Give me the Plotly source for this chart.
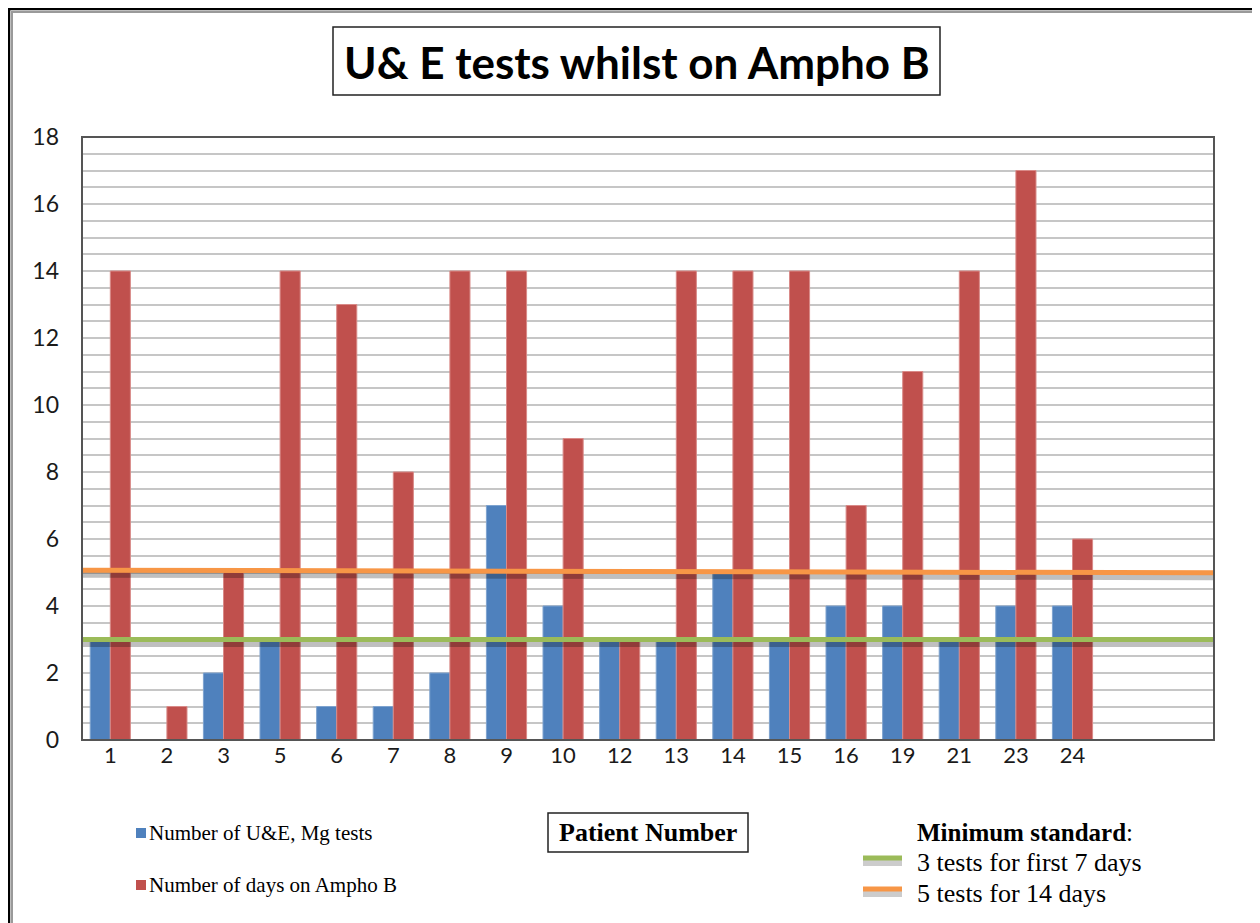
import plotly.graph_objects as go

# ---------------- data ----------------
patients = ["1", "2", "3", "5", "6", "7", "8", "9", "10", "12", "13", "14", "15", "16", "19", "21", "23", "24"]
n_empty_categories = 2
ue_mg_tests = [3, 0, 2, 3, 1, 1, 2, 7, 4, 3, 3, 5, 3, 4, 4, 3, 4, 4]
days_on_ampho = [14, 1, 5, 14, 13, 8, 14, 14, 9, 3, 14, 14, 14, 7, 11, 14, 17, 6]
std_7days = [3, 3]        # minimum standard: 3 tests for first 7 days
std_14days = [5.07, 4.99]  # minimum standard: 5 tests for 14 days (hand drawn, slightly sloped)
y_ticks = [0, 2, 4, 6, 8, 10, 12, 14, 16, 18]

title_text = "U& E tests whilst on Ampho B"
xaxis_title = "Patient Number"
series_names = ["Number of U&E, Mg tests", "Number of days on Ampho B"]
std_title = "Minimum standard"
std_labels = ["3 tests for first 7 days", "5 tests for 14 days"]

# ---------------- styles ----------------
BLUE = "#4F81BD"
RED = "#C0504D"
GREEN = "#9BBB59"
ORANGE = "#F79646"
SERIF = "Liberation Serif, Times New Roman, serif"
SANS = "Lato, Open Sans, sans-serif"

OFF = 8  # page body margin
W_FIG, H_FIG = 1260 - OFF, 923 - OFF
# plot area in screenshot pixels
L, R, T, B = 82, 1214, 137, 740
PW, PH = R - L, B - T

def px(x):
    return (x - L) / PW

def py(y):
    return (B - y) / PH

n_cat = len(patients) + n_empty_categories
x_idx = list(range(len(patients)))
x_range = [-0.5, n_cat - 0.5]
y_range = [0, 18]
shadow_off = 4 * (y_range[1] - y_range[0]) / PH

fig = go.Figure()
fig.add_trace(go.Bar(x=x_idx, y=ue_mg_tests, name=series_names[0],
                     marker=dict(color=BLUE, line=dict(color="#7ea3cf", width=1))))
fig.add_trace(go.Bar(x=x_idx, y=days_on_ampho, name=series_names[1],
                     marker=dict(color=RED, line=dict(color="#d98a88", width=1))))

for vals, col in [(std_7days, GREEN), (std_14days, ORANGE)]:
    fig.add_trace(go.Scatter(x=x_range, y=[v - shadow_off for v in vals], mode="lines",
                             line=dict(color="rgba(0,0,0,0.25)", width=7),
                             hoverinfo="skip", cliponaxis=False))
    fig.add_trace(go.Scatter(x=x_range, y=vals, mode="lines",
                             line=dict(color=col, width=5), cliponaxis=False))

shapes = []
annotations = []

# outer frame
shapes += [
    dict(type="line", xref="paper", yref="paper", x0=px(8.5), x1=px(8.5), y0=py(7), y1=py(930),
         line=dict(color="black", width=3.5)),
    dict(type="line", xref="paper", yref="paper", x0=px(7), x1=px(1262), y0=py(8.5), y1=py(8.5),
         line=dict(color="black", width=3.5)),
    dict(type="line", xref="paper", yref="paper", x0=px(12), x1=px(12), y0=py(11), y1=py(930),
         line=dict(color="#9a9a9a", width=2)),
    dict(type="line", xref="paper", yref="paper", x0=px(11), x1=px(1258), y0=py(12), y1=py(12),
         line=dict(color="#9a9a9a", width=2)),
    dict(type="line", xref="paper", yref="paper", x0=px(1258.5), x1=px(1258.5), y0=py(11), y1=py(930),
         line=dict(color="#b5b5b5", width=2)),
]

# plot area border
shapes.append(dict(type="rect", xref="paper", yref="paper", x0=0, x1=1, y0=0, y1=1,
                   line=dict(color="#555555", width=2), layer="above"))

# title box
shapes.append(dict(type="rect", xref="paper", yref="paper", x0=px(333), x1=px(940), y0=py(27), y1=py(95),
                   line=dict(color="#222222", width=1.5), fillcolor="white"))
annotations.append(dict(text="<b>" + title_text + "</b>", xref="paper", yref="paper",
                        x=px(636.5), y=py(62), showarrow=False, xanchor="center", yanchor="middle",
                        font=dict(family=SANS, size=44, color="black")))

# axis title box
shapes.append(dict(type="rect", xref="paper", yref="paper", x0=px(548), x1=px(748), y0=py(813), y1=py(852),
                   line=dict(color="#222222", width=1.5), fillcolor="white"))
annotations.append(dict(text="<b>" + xaxis_title + "</b>", xref="paper", yref="paper",
                        x=px(648), y=py(832), showarrow=False, xanchor="center", yanchor="middle",
                        font=dict(family=SERIF, size=26, color="black")))

# legend: bar series
for (cy, col, name) in [(833, BLUE, series_names[0]), (885, RED, series_names[1])]:
    shapes.append(dict(type="rect", xref="paper", yref="paper", x0=px(136), x1=px(146),
                       y0=py(cy - 5), y1=py(cy + 5), line=dict(width=0), fillcolor=col))
    annotations.append(dict(text=name, xref="paper", yref="paper", x=px(147), y=py(cy),
                            showarrow=False, xanchor="left", yanchor="middle",
                            font=dict(family=SERIF, size=21, color="black")))

# legend: minimum standard
annotations.append(dict(text="<b>" + std_title + "</b>:", xref="paper", yref="paper", x=px(915), y=py(832),
                        showarrow=False, xanchor="left", yanchor="middle",
                        font=dict(family=SERIF, size=25, color="black")))
for (cy, col, lab) in [(862, GREEN, std_labels[0]), (893, ORANGE, std_labels[1])]:
    ly = cy - 4
    shapes.append(dict(type="line", xref="paper", yref="paper", x0=px(863), x1=px(902),
                       y0=py(ly + 5), y1=py(ly + 5), line=dict(color="rgba(0,0,0,0.2)", width=6)))
    shapes.append(dict(type="line", xref="paper", yref="paper", x0=px(863), x1=px(902),
                       y0=py(ly), y1=py(ly), line=dict(color=col, width=5)))
    annotations.append(dict(text=lab, xref="paper", yref="paper", x=px(915), y=py(cy),
                            showarrow=False, xanchor="left", yanchor="middle",
                            font=dict(family=SERIF, size=26, color="black")))

fig.update_layout(
    width=W_FIG, height=H_FIG,
    margin=dict(l=L - OFF, r=W_FIG - (R - OFF), t=T - OFF, b=H_FIG - (B - OFF), pad=0),
    paper_bgcolor="white", plot_bgcolor="white",
    showlegend=False,
    barmode="group", bargap=0.29, bargroupgap=0,
    shapes=shapes, annotations=annotations,
    xaxis=dict(range=x_range, tickmode="array", tickvals=x_idx, ticktext=patients,
               showgrid=False, zeroline=False, showline=False, ticks="",
               tickfont=dict(family=SANS, size=22, color="#1a1a1a"), ticklabelstandoff=0),
    yaxis=dict(range=y_range, tickmode="array", tickvals=y_ticks,
               showgrid=True, gridcolor="#c6c6c6", gridwidth=1.5,
               minor=dict(dtick=0.5, showgrid=True, gridcolor="#c6c6c6", gridwidth=1.5),
               zeroline=False, showline=False, ticks="",
               tickfont=dict(family=SANS, size=23, color="#1a1a1a"), ticklabelstandoff=22),
)

fig.write_html("out.html")
